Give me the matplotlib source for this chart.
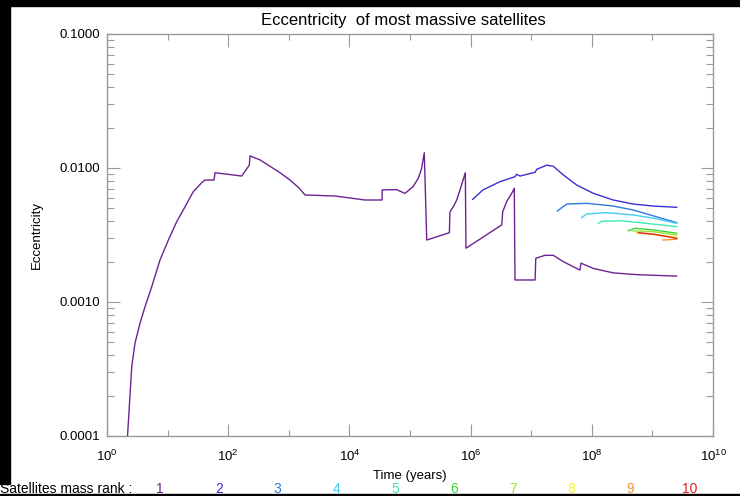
import matplotlib
matplotlib.use("Agg")
import matplotlib.pyplot as plt
from matplotlib.patches import Rectangle
from matplotlib.ticker import FixedLocator, FixedFormatter, NullFormatter

plt.rcParams['font.family'] = ['Liberation Sans', 'DejaVu Sans']

# rank 1 : main satellite (time in years, eccentricity)
t1 = [2.15, 2.56, 2.90, 3.50, 4.24, 5.47, 7.49, 10.3, 14.1, 19.4, 26.5, 36.5, 41.4, 58.3,
      60.6, 167, 223, 229, 335, 490, 716, 1047, 1435, 1850, 5780, 18100, 34500, 34800,
      60000, 82600, 112000, 137000, 156000, 164000, 172000, 189000, 446000, 457000,
      518000, 590000, 668000, 758000, 818000, 839000, 3.26e6, 3.39e6, 3.94e6, 4.77e6,
      5.26e6, 5.40e6, 1.16e7, 1.19e7, 1.69e7, 2.32e7, 3.39e7, 6.38e7, 6.63e7, 1.06e8,
      2.26e8, 5.51e8, 2.52e9]
e1 = [9.0e-5, 3.29e-4, 4.94e-4, 6.93e-4, 9.22e-4, 1.30e-3, 2.06e-3, 2.90e-3, 3.97e-3,
      5.14e-3, 6.65e-3, 7.77e-3, 8.13e-3, 8.13e-3, 9.22e-3, 8.71e-3, 1.05e-2, 1.23e-2,
      1.15e-2, 1.03e-2, 9.22e-3, 8.13e-3, 7.18e-3, 6.29e-3, 6.18e-3, 5.77e-3, 5.77e-3,
      6.86e-3, 6.90e-3, 6.47e-3, 7.24e-3, 8.38e-3, 9.95e-3, 1.15e-2, 1.30e-2, 2.90e-3,
      3.29e-3, 4.72e-3, 5.14e-3, 5.77e-3, 6.86e-3, 8.24e-3, 9.22e-3, 2.52e-3, 3.76e-3,
      4.72e-3, 5.61e-3, 6.47e-3, 7.06e-3, 1.46e-3, 1.46e-3, 2.12e-3, 2.23e-3, 2.23e-3,
      2.00e-3, 1.73e-3, 1.95e-3, 1.78e-3, 1.65e-3, 1.60e-3, 1.56e-3]

t2 = [1.08e6, 1.60e6, 3.06e6, 5.40e6, 5.77e6, 6.54e6, 1.16e7, 1.23e7, 1.80e7, 2.32e7,
      3.39e7, 5.64e7, 1.06e8, 2.26e8, 4.84e8, 1.04e9, 2.52e9]
e2 = [5.83e-3, 6.86e-3, 7.91e-3, 8.61e-3, 8.97e-3, 8.71e-3, 9.29e-3, 9.77e-3, 1.05e-2,
      1.03e-2, 8.87e-3, 7.46e-3, 6.47e-3, 5.77e-3, 5.38e-3, 5.20e-3, 5.09e-3]

t3 = [2.70e7, 3.86e7, 8.24e7, 2.26e8, 4.84e8, 1.04e9, 2.52e9]
e3 = [4.78e-3, 5.38e-3, 5.45e-3, 5.20e-3, 4.86e-3, 4.39e-3, 3.91e-3]

t4 = [6.81e7, 8.24e7, 1.76e8, 4.84e8, 1.04e9, 2.52e9]
e4 = [4.26e-3, 4.54e-3, 4.64e-3, 4.46e-3, 4.22e-3, 3.87e-3]

t5 = [1.28e8, 1.46e8, 2.92e8, 6.24e8, 2.52e9]
e5 = [3.87e-3, 4.00e-3, 4.04e-3, 3.91e-3, 3.65e-3]

t6 = [4.00e8, 5.16e8, 1.04e9, 2.52e9]
e6 = [3.40e-3, 3.55e-3, 3.45e-3, 3.26e-3]

t7 = [4.79e8, 1.02e9, 2.52e9]
e7 = [3.39e-3, 3.35e-3, 3.16e-3]

t8 = [5.51e8, 2.52e9]
e8 = [3.29e-3, 3.04e-3]

t9 = [1.50e9, 2.52e9]
e9 = [2.90e-3, 2.94e-3]

t10 = [5.85e8, 1.02e9, 2.52e9]
e10 = [3.29e-3, 3.21e-3, 2.99e-3]

times = [t1, t2, t3, t4, t5, t6, t7, t8, t9, t10]
eccs = [e1, e2, e3, e4, e5, e6, e7, e8, e9, e10]
ranks = ['1', '2', '3', '4', '5', '6', '7', '8', '9', '10']
colors = ['#6c2391', '#3a2fd0', '#2f78e0', '#3fcff0', '#3fe8b0',
          '#3cd43c', '#96e632', '#f2f22c', '#f2962c', '#e02020']

xmajor = [1e0, 1e2, 1e4, 1e6, 1e8, 1e10]
xlabels = [r'$\mathdefault{10^{0}}$', r'$\mathdefault{10^{2}}$', r'$\mathdefault{10^{4}}$',
           r'$\mathdefault{10^{6}}$', r'$\mathdefault{10^{8}}$', r'$\mathdefault{10^{10}}$']
xminor = [1e1, 1e3, 1e5, 1e7, 1e9]
ymajor = [1e-4, 1e-3, 1e-2, 1e-1]
ylabels = ['0.0001', '0.0010', '0.0100', '0.1000']

W, H = 740, 496
fig = plt.figure(figsize=(W / 100, H / 100), dpi=100)
ax = fig.add_axes([107 / W, 1 - 436 / H, 606 / W, 402 / H])

for t, e, c in zip(times, eccs, colors):
    ax.plot(t, e, color=c, lw=1.0, zorder=3)

ax.set_xscale('log')
ax.set_yscale('log')
ax.set_xlim(1, 1e10)
ax.set_ylim(1e-4, 1e-1)

ax.xaxis.set_major_locator(FixedLocator(xmajor))
ax.xaxis.set_major_formatter(FixedFormatter(xlabels))
ax.xaxis.set_minor_locator(FixedLocator(xminor))
ax.xaxis.set_minor_formatter(NullFormatter())
ax.yaxis.set_major_locator(FixedLocator(ymajor))
ax.yaxis.set_major_formatter(FixedFormatter(ylabels))
ax.yaxis.set_minor_formatter(NullFormatter())

gray = '#9a9a9a'
for s in ax.spines.values():
    s.set_color(gray)
    s.set_linewidth(1.0)
ax.tick_params(which='both', direction='in', top=True, right=True, color=gray,
               labelsize=9.5, width=0.8)
ax.tick_params(axis='x', which='major', length=9, pad=9)
ax.tick_params(axis='x', which='minor', length=4.5)
ax.tick_params(axis='y', which='major', length=9, pad=5)
ax.tick_params(axis='y', which='minor', length=5)

ax.set_xlabel('Time (years)', fontsize=9.5)
ax.xaxis.set_label_coords(0.5, -0.085)
ax.set_ylabel('Eccentricity', fontsize=9.5)
ax.yaxis.set_label_coords(-0.106, 0.5)

fig.text(403 / W, 1 - 20 / H, 'Eccentricity  of most massive satellites',
         ha='center', va='center', fontsize=12)

# bottom legend of ranks
fig.text(0 / W, 1 - 489 / H, 'Satellites mass rank :', ha='left', va='center', fontsize=10)
for i, (r, c) in enumerate(zip(ranks, colors)):
    fig.text((160 + i * 58.8) / W, 1 - 489 / H, r, color=c, ha='center', va='center',
             fontsize=10)

# black frame strips of the original screenshot
fig.patches.append(Rectangle((0, 1 - 6 / H), 1, 6 / H, transform=fig.transFigure,
                             color='black', zorder=0))
fig.patches.append(Rectangle((0, 1 - 484 / H), 10 / W, 484 / H, transform=fig.transFigure,
                             color='black', zorder=0))
fig.patches.append(Rectangle((0, 0), 1, 2 / H, transform=fig.transFigure,
                             color='black', zorder=0))

fig.savefig('out.png', dpi=100, facecolor='white')
